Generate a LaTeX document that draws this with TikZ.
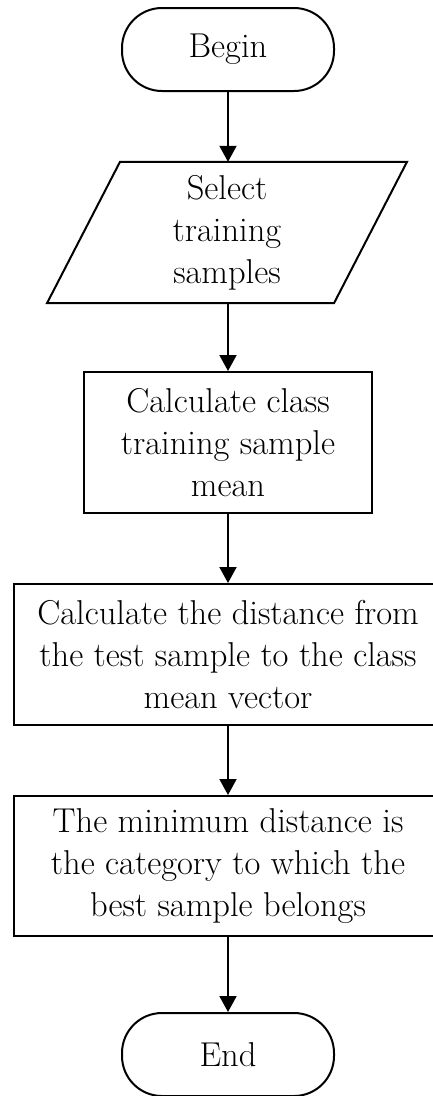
\documentclass[tikz,border=0pt]{standalone}
\usetikzlibrary{arrows.meta}
\begin{document}
\begin{tikzpicture}[x=1pt,y=-1pt,
  every node/.style={font=\fontsize{34.5}{42}\selectfont, align=center, inner sep=0pt},
  term/.style={draw, line width=2pt, rounded corners=40pt, minimum width=212pt, minimum height=83pt},
  proc/.style={draw, line width=2pt, minimum height=141pt},
  flow/.style={line width=2pt, -{Triangle[length=16pt,width=17pt]}}
]
\clip (0,0) rectangle (433,1096);
\useasboundingbox (0,0) rectangle (433,1096);
\fill[white] (0,0) rectangle (433,1096);

\node[term] (begin) at (228,49.5) {Begin};

\node[minimum width=240pt, minimum height=141pt] (select) at (227,232.5) {Select\\training\\samples};
\draw[line width=2pt, line join=miter]
  ([xshift=-107pt]select.north) -- ([xshift=180pt]select.north)
  -- ([xshift=107pt]select.south) -- ([xshift=-180pt]select.south) -- cycle;

\node[proc, minimum width=288pt] (calc1) at (228,442.5) {Calculate class\\training sample\\mean};
\node[proc, minimum width=428pt] (calc2) at (228,654.5) {Calculate the distance from\\the test sample to the class\\mean vector};
\node[proc, minimum width=428pt, minimum height=140pt] (mind) at (228,866) {The minimum distance is\\the category to which the\\best sample belongs};

\node[term] (end) at (228,1054.5) {End};

\draw[flow] (begin.south) -- (begin.south |- select.north);
\draw[flow] (begin.south |- select.south) -- (calc1.north);
\draw[flow] (calc1.south) -- (calc2.north);
\draw[flow] (calc2.south) -- (mind.north);
\draw[flow] (mind.south) -- (end.north);
\end{tikzpicture}
\end{document}
